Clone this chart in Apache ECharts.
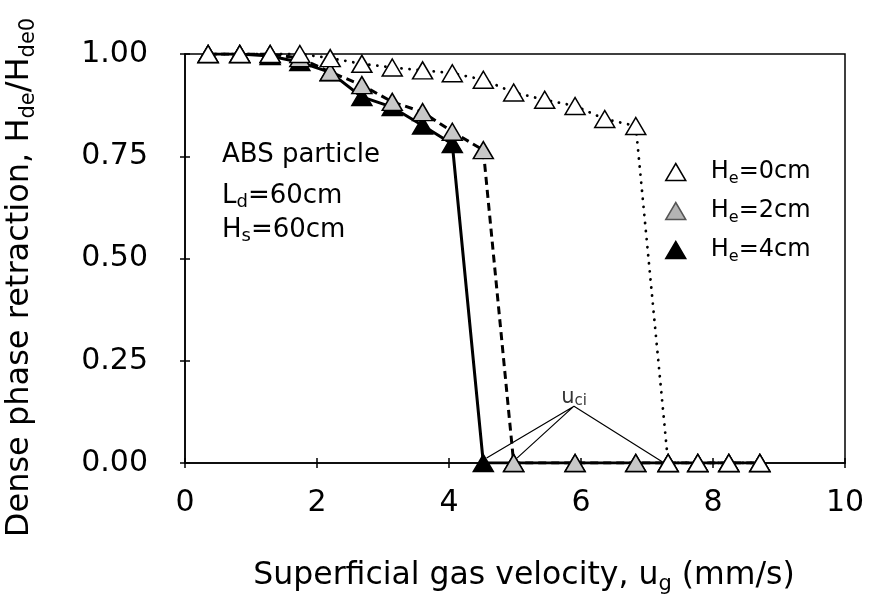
<!DOCTYPE html>
<html>
<head>
<meta charset="utf-8">
<script src="https://cdn.jsdelivr.net/npm/echarts@6/dist/echarts.min.js"></script>
<style>html,body{margin:0;padding:0;background:#fff}#c{width:872px;height:596px}</style>
</head>
<body>
<div id="c"></div>
<script>
// ---- data ----
var ugHe0 = [0.35,0.83,1.29,1.74,2.20,2.68,3.14,3.60,4.05,4.52,4.98,5.45,5.91,6.36,6.83,7.32,7.77,8.24,8.71];
var valHe0 = [1.00,1.00,1.00,1.00,0.990,0.976,0.967,0.960,0.953,0.937,0.906,0.888,0.873,0.841,0.824,0,0,0,0];
var ugHe2 = [0.35,0.83,1.29,1.74,2.20,2.68,3.14,3.60,4.05,4.52,4.98,5.91,6.83,7.32,7.77,8.24,8.71];
var valHe2 = [1.00,1.00,1.00,0.990,0.956,0.924,0.883,0.858,0.810,0.765,0,0,0,0,0,0,0];
var ugHe4 = [0.35,0.83,1.29,1.74,2.20,2.68,3.14,3.60,4.05,4.52,4.98,5.91,6.83,7.32,7.77,8.24,8.71];
var valHe4 = [1.00,1.00,0.995,0.980,0.955,0.895,0.870,0.825,0.780,0,0,0,0,0,0,0,0];
var uciApex = [5.894, 0.139];
var uciEnds = [[4.57,0.012],[5.03,0.012],[7.23,0.003]];
var xTicks = {min:0, max:10, interval:2};
var yTicks = {min:0, max:1, interval:0.25};
var seriesNames = ['He=0cm','He=2cm','He=4cm'];
var seriesSubs = [['H','e','=0cm'],['H','e','=2cm'],['H','e','=4cm']];

function pairs(xs, ys){ return xs.map(function(x,i){return [x, ys[i]];}); }

var FONT = '"DejaVu Sans", Verdana, sans-serif';
var chart = echarts.init(document.getElementById('c'), null, {renderer:'canvas'});

var uciPath = [uciEnds[0], uciApex, uciEnds[1], uciApex, uciEnds[2]];
var GREY = '#c8c8c8';

var option = {
  animation: false,
  backgroundColor: '#fff',
  textStyle: {fontFamily: FONT, color:'#000'},
  grid: {left:185, right:27, top:54, bottom:133, containLabel:false, outerBoundsMode:'none',
         show:true, borderColor:'#000', borderWidth:1.5, backgroundColor:'transparent'},
  xAxis: [{
    type:'value', min:xTicks.min, max:xTicks.max, interval:xTicks.interval, position:'bottom',
    axisLine:{show:true, lineStyle:{color:'#000', width:1.5}},
    axisTick:{show:true, inside:false, length:5, lineStyle:{color:'#000', width:1.5}},
    axisLabel:{fontSize:30, color:'#000', margin:25, fontFamily:FONT},
    splitLine:{show:false},
    name:'{m|Superficial gas velocity, u}{s|g}{m| (mm/s)}',
    nameLocation:'middle', nameGap:94,
    nameTextStyle:{padding:[0,0,0,18], rich:{
      m:{fontSize:31.5, fontFamily:FONT, color:'#000', lineHeight:38},
      s:{fontSize:21, fontFamily:FONT, color:'#000', lineHeight:21, verticalAlign:'bottom'}
    }}
  },{
    type:'value', min:xTicks.min, max:xTicks.max, interval:xTicks.interval, position:'bottom',
    axisLine:{show:false}, axisLabel:{show:false}, splitLine:{show:false},
    axisTick:{show:true, inside:true, length:5, lineStyle:{color:'#000', width:1.5}}
  }],
  yAxis: [{
    type:'value', min:yTicks.min, max:yTicks.max, interval:yTicks.interval, position:'left',
    axisLine:{show:true, lineStyle:{color:'#000', width:1.5}},
    axisTick:{show:true, inside:false, length:5, lineStyle:{color:'#000', width:1.5}},
    axisLabel:{fontSize:30, color:'#000', margin:37, fontFamily:FONT, formatter:function(v){return v.toFixed(2);}},
    splitLine:{show:false},
    name:'{m|Dense phase retraction, H}{s|de}{m|/H}{s|de0}',
    nameLocation:'middle', nameGap:146, nameRotate:90,
    nameTextStyle:{padding:[0,38,0,0], rich:{
      m:{fontSize:32, fontFamily:FONT, color:'#000', lineHeight:38},
      s:{fontSize:21, fontFamily:FONT, color:'#000', lineHeight:21, verticalAlign:'bottom'}
    }}
  },{
    type:'value', min:yTicks.min, max:yTicks.max, interval:yTicks.interval, position:'left',
    axisLine:{show:false}, axisLabel:{show:false}, splitLine:{show:false},
    axisTick:{show:true, inside:true, length:5, lineStyle:{color:'#000', width:1.5}}
  }],
  legend: {
    orient:'vertical', left:660, top:155, itemWidth:20, itemHeight:17, itemGap:12,
    icon:'triangle',
    data:[
      {name:seriesNames[0], itemStyle:{color:'#fff', borderColor:'#000', borderWidth:1.5}},
      {name:seriesNames[1], itemStyle:{color:'#b4b4b4', borderColor:'#555', borderWidth:1.5}},
      {name:seriesNames[2], itemStyle:{color:'#000', borderColor:'#000', borderWidth:1.5}}
    ],
    formatter:function(name){
      var i = seriesNames.indexOf(name); var p = seriesSubs[i];
      return '{m|'+p[0]+'}{s|'+p[1]+'}{m|'+p[2]+'}';
    },
    textStyle:{padding:[0,0,0,20], rich:{
      m:{fontSize:24, fontFamily:FONT, color:'#000', lineHeight:30},
      s:{fontSize:16, fontFamily:FONT, color:'#000', lineHeight:16, verticalAlign:'bottom'}
    }}
  },
  graphic: [
    {type:'text', left:222, top:142, style:{text:'ABS particle', font:'26px '+FONT, fill:'#000'}},
    {type:'text', left:222, top:183, style:{text:'{m|L}{s|d}{m|=60cm}', rich:{
      m:{fontSize:26, fontFamily:FONT, fill:'#000', lineHeight:30},
      s:{fontSize:18, fontFamily:FONT, fill:'#000', lineHeight:18, verticalAlign:'bottom'}}}},
    {type:'text', left:222, top:217, style:{text:'{m|H}{s|s}{m|=60cm}', rich:{
      m:{fontSize:26, fontFamily:FONT, fill:'#000', lineHeight:30},
      s:{fontSize:18, fontFamily:FONT, fill:'#000', lineHeight:18, verticalAlign:'bottom'}}}}
  ],
  series: [
    {
      name:'uci', type:'line', data:uciPath, symbol:'none', silent:true, z:1,
      lineStyle:{color:'#000', width:1.2}
    },
    {
      name:'uciLabel', type:'scatter', data:[uciApex], symbolSize:0, silent:true,
      label:{show:true, position:'top', distance:-2, formatter:'{u|u}{s|ci}', rich:{
        u:{fontSize:21, fontFamily:FONT, color:'#000', lineHeight:22},
        s:{fontSize:15, fontFamily:FONT, color:'#000', lineHeight:15, verticalAlign:'bottom'}
      }}
    },
    {
      name:seriesNames[2], type:'line', data:pairs(ugHe4, valHe4), z:2,
      symbol:'triangle', symbolSize:[20,17],
      lineStyle:{color:'#000', width:3},
      itemStyle:{color:'#000', borderColor:'#000', borderWidth:1.5}
    },
    {
      name:seriesNames[1], type:'line', data:pairs(ugHe2, valHe2), z:3,
      symbol:'triangle', symbolSize:[20,17],
      lineStyle:{color:'#000', width:3, type:[8,5]},
      itemStyle:{color:GREY, borderColor:'#000', borderWidth:1.5}
    },
    {
      name:seriesNames[0], type:'line', data:pairs(ugHe0, valHe0), z:4,
      symbol:'triangle', symbolSize:[20,17],
      lineStyle:{color:'#000', width:2.8, type:[0.1,8], cap:'round'},
      itemStyle:{color:'#fff', borderColor:'#000', borderWidth:1.5}
    }
  ]
};
chart.setOption(option);
</script>
</body>
</html>
